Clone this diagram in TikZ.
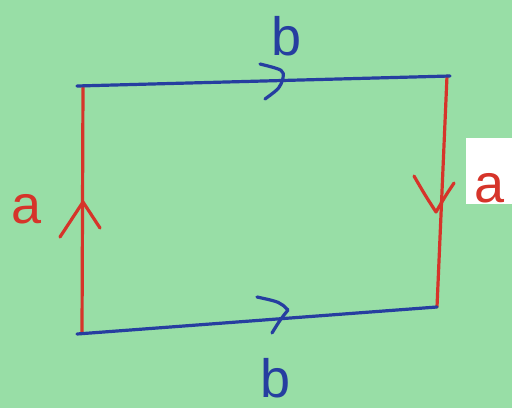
\documentclass[tikz,border=0pt]{standalone}
\usepackage{fontspec}
\setmainfont{Liberation Sans}
\definecolor{bg}{RGB}{152,222,166}
\definecolor{pred}{RGB}{214,52,42}
\definecolor{pblue}{RGB}{38,62,160}
\begin{document}
\begin{tikzpicture}[x=1pt,y=-1pt,
  redline/.style={draw=pred,line width=3.2pt,line cap=round,line join=round},
  blueline/.style={draw=pblue,line width=3.2pt,line cap=round,line join=round},
  lab/.style={font=\fontsize{54}{54}\selectfont,inner sep=0pt}]
\fill[bg] (0,0) rectangle (512,408);
\useasboundingbox (0,0) rectangle (512,408);
\fill[white] (466,138) rectangle (512,204);
\coordinate (tl) at (83,86);
\coordinate (tr) at (447,76);
\coordinate (br) at (437,307);
\coordinate (bl) at (82,333);
\coordinate (tlb) at (77,86);
\coordinate (blb) at (77,334);
\coordinate (trb) at (450,76);
% red sides
\draw[redline] (bl) -- (tl);
\draw[redline] (tr) -- (br);
% blue sides
\draw[blueline] (tlb) -- (trb);
\draw[blueline] (blb) -- (br);
% chevrons
\draw[redline] (60,237) -- (83,202) -- (100,228);
\draw[redline] (414,176) .. controls (425,195) .. (436,212) .. controls (446,195) .. (454,183);
\draw[blueline] (260,64) .. controls (284,70) .. (283,78) .. controls (280,88) .. (265,99);
\draw[blueline] (257,297) .. controls (280,302) .. (288,310) .. controls (280,320) .. (272,333);
% labels
\node[lab,text=pred] (la) at (27,209) {a};
\node[lab,text=pred] (ra) at (490,188) {a};
\node[lab,text=pblue] (tb) at (287,36) {b};
\node[lab,text=pblue] (bb) at (276,378) {b};
\end{tikzpicture}
\end{document}
